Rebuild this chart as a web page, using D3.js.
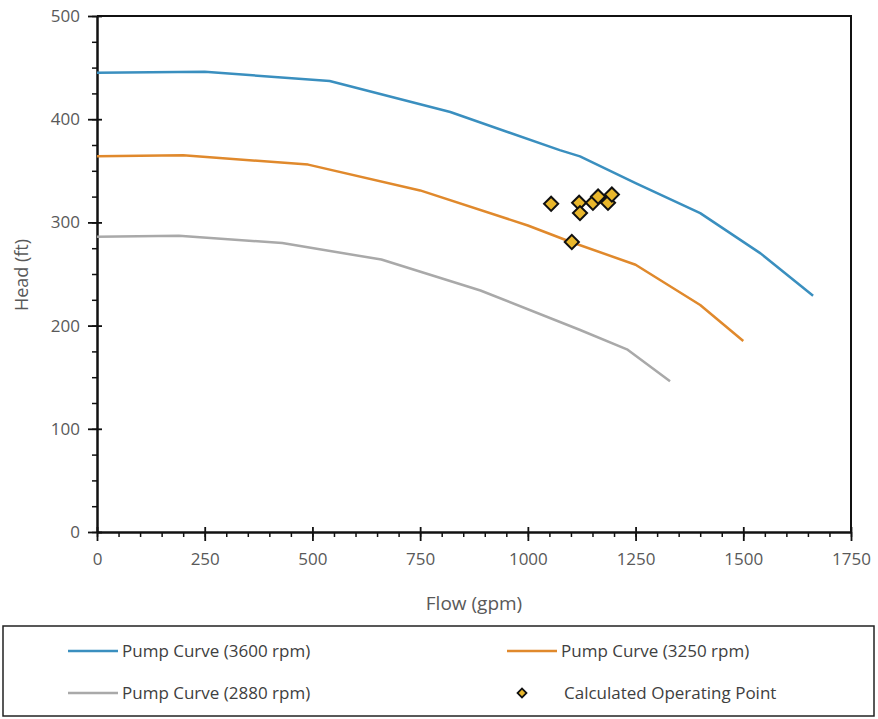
<!DOCTYPE html>
<html>
<head>
<meta charset="utf-8">
<script src="https://cdn.jsdelivr.net/npm/d3@7"></script>
<style>
  body { margin: 0; background: #fff; }
  text { font-family: "Open Sans", sans-serif; }
</style>
</head>
<body>
<div class="chart"></div>
<script>
// pump curves (flow gpm, head ft)
const curve3600 = [[0,445],[250,446],[540,437],[820,407],[1074,370],[1121,364],[1250,338],[1400,309],[1540,270],[1662,229]];
const curve3250 = [[0,364],[200,365],[490,356],[750,331],[1000,297],[1100,281],[1250,259],[1400,220],[1500,185]];
const curve2880 = [[0,286],[190,287],[430,280],[660,264],[890,234],[1120,196],[1230,177],[1330,146]];
const opPoints = [[1054,318],[1102,281],[1119,319],[1121,309],[1151,319],[1163,325],[1186,319],[1195,327]];
const xTicks = [0,250,500,750,1000,1250,1500,1750];
const yTicks = [0,100,200,300,400,500];
const seriesNames = ["Pump Curve (3600 rpm)","Pump Curve (3250 rpm)","Pump Curve (2880 rpm)","Calculated Operating Point"];

const colors = {c3600:"#3a8fbf", c3250:"#e0892c", c2880:"#a9a9a9", op:"#e9b72c"};

const outWidth = 878, outHeight = 719;
const margin = {top:16, right:27, left:97, bottom:187};
const width = outWidth - margin.left - margin.right,
      height = outHeight - margin.top - margin.bottom;

const svg = d3.select(".chart").append("svg")
    .attr("width", outWidth)
    .attr("height", outHeight);

const g = svg.append("g")
    .attr("transform", `translate(${margin.left}, ${margin.top})`);

const xScale = d3.scaleLinear().domain([0,1750]).range([0,width]);
const yScale = d3.scaleLinear().domain([0,500]).range([height,0]);

// frame top/right
g.append("path")
    .attr("d", `M0,0H${width}V${height}`)
    .attr("fill","none").attr("stroke","#111").attr("stroke-width",2);

// minor ticks
g.append("g")
    .attr("transform", `translate(0, ${height})`)
    .call(d3.axisBottom(xScale).tickValues(d3.range(0,1751,50)).tickSize(5).tickFormat(""))
    .call(a => a.select(".domain").remove())
    .call(a => a.selectAll("line").attr("stroke","#111").attr("stroke-width",1.5));
g.append("g")
    .call(d3.axisLeft(yScale).tickValues(d3.range(0,501,25)).tickSize(5).tickFormat(""))
    .call(a => a.select(".domain").remove())
    .call(a => a.selectAll("line").attr("stroke","#111").attr("stroke-width",1.5));

// major axes
const xAxis = g.append("g")
    .attr("class","axis x-axis")
    .attr("transform", `translate(0, ${height})`)
    .call(d3.axisBottom(xScale).tickValues(xTicks).tickFormat(d3.format("d"))
        .tickSize(9).tickSizeOuter(0).tickPadding(12));
xAxis.selectAll(".tick line").attr("y1",-5);
const yAxis = g.append("g")
    .attr("class","axis y-axis")
    .call(d3.axisLeft(yScale).tickValues(yTicks).tickSize(9).tickSizeOuter(0).tickPadding(8));
yAxis.selectAll(".tick line").attr("x1",5);

g.selectAll(".axis .domain").attr("stroke","#111").attr("stroke-width",2.5);
g.selectAll(".axis .tick line").attr("stroke","#111").attr("stroke-width",1.8);
g.selectAll(".axis text").attr("fill","#595959").style("font-size","17px");

// axis titles
svg.append("text")
    .attr("x", 474).attr("y", 610)
    .attr("text-anchor","middle")
    .attr("fill","#595959")
    .style("font-size","19px")
    .text("Flow (gpm)");
svg.append("text")
    .attr("transform","translate(28,275) rotate(-90)")
    .attr("text-anchor","middle")
    .attr("fill","#595959")
    .style("font-size","18px")
    .text("Head (ft)");

const line = d3.line()
    .x(d => xScale(d[0]))
    .y(d => yScale(d[1]));

[[curve3600,colors.c3600],[curve3250,colors.c3250],[curve2880,colors.c2880]].forEach(([data,c]) => {
  g.append("path")
      .datum(data)
      .attr("d", line)
      .attr("fill","none")
      .attr("stroke", c)
      .attr("stroke-width", 2.5)
      .attr("stroke-linejoin","round");
});

g.selectAll(".op")
    .data(opPoints)
    .enter()
    .append("path")
    .attr("class","op")
    .attr("transform", d => `translate(${xScale(d[0])},${yScale(d[1])}) rotate(45)`)
    .attr("d", d3.symbol().type(d3.symbolSquare).size(100))
    .attr("fill", colors.op)
    .attr("stroke","#111")
    .attr("stroke-width",2);

// legend
const leg = svg.append("g");
leg.append("rect")
    .attr("x",3).attr("y",626).attr("width",871).attr("height",90)
    .attr("fill","none").attr("stroke","#222").attr("stroke-width",1.5);

const legItems = [
  {name:seriesNames[0], color:colors.c3600, x:68, y:651, type:"line"},
  {name:seriesNames[1], color:colors.c3250, x:507, y:651, type:"line"},
  {name:seriesNames[2], color:colors.c2880, x:68, y:693, type:"line"},
  {name:seriesNames[3], color:colors.op, x:507, y:693, type:"point"}
];
legItems.forEach(it => {
  if (it.type === "line") {
    leg.append("line")
        .attr("x1", it.x).attr("x2", it.x + 50)
        .attr("y1", it.y).attr("y2", it.y)
        .attr("stroke", it.color).attr("stroke-width", 2.5);
    leg.append("text")
        .attr("x", it.x + 54).attr("y", it.y)
        .attr("dy","0.35em")
        .attr("fill","#404040")
        .style("font-size","17px")
        .text(it.name);
  } else {
    leg.append("path")
        .attr("transform", `translate(${it.x + 15},${it.y}) rotate(45)`)
        .attr("d", d3.symbol().type(d3.symbolSquare).size(40))
        .attr("fill", it.color)
        .attr("stroke","#111")
        .attr("stroke-width",1.8);
    leg.append("text")
        .attr("x", it.x + 57).attr("y", it.y)
        .attr("dy","0.35em")
        .attr("fill","#404040")
        .style("font-size","17px")
        .text(it.name);
  }
});
</script>
</body>
</html>
